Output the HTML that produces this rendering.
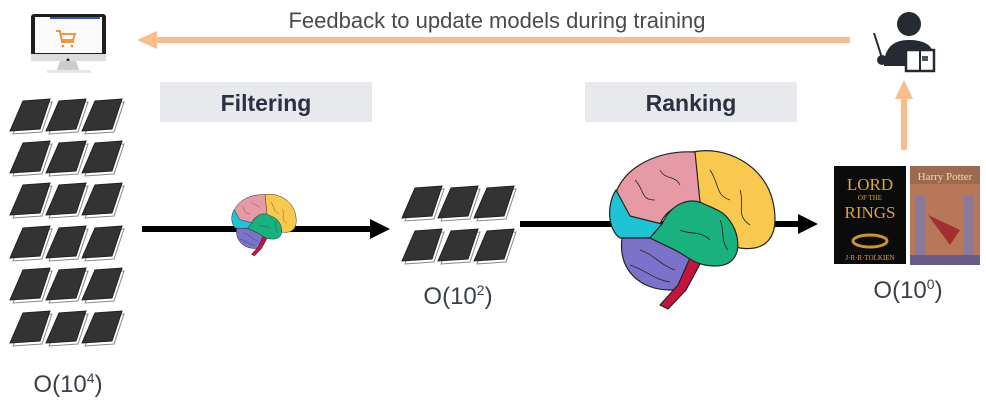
<!DOCTYPE html>
<html><head><meta charset="utf-8"><style>
html,body{margin:0;padding:0;background:#fff;}
body{width:986px;height:402px;overflow:hidden;position:relative;font-family:"Liberation Sans",sans-serif;}
</style></head><body>
<svg width="986" height="402" viewBox="0 0 986 402" xmlns="http://www.w3.org/2000/svg">
<defs>
<g id="book">
<polygon points="3,35 15,5 42,3 32,33" fill="#fff" stroke="#888" stroke-width="1"/>
<polygon points="0,32 13,2 40,0 30,30" fill="#333" stroke="#222" stroke-width="1"/>
</g>
<g id="brain" stroke="#222" stroke-width="1.2" stroke-linejoin="round">
<path d="M93,12 C125,5 165,25 173,62 C180,95 168,112 140,108 L103,100 L97,60 Z" fill="#f8c94e"/>
<path d="M15,55 C25,25 60,10 95,12 L100,62 C80,62 66,70 60,84 L50,92 L15,72 Z" fill="#e59aa5"/>
<path d="M16,50 C6,65 8,90 20,98 L50,98 L62,84 L30,76 Z" fill="#1ec3d4"/>
<path d="M22,98 C18,130 40,150 70,150 C88,150 97,138 95,120 L75,110 L50,98 Z" fill="#7c72c9"/>
<path d="M90,118 L78,145 L60,165 L68,169 L86,150 L100,124 Z" fill="#c4163d"/>
<path d="M62,84 C72,62 90,58 102,63 C116,70 126,70 135,90 C142,110 136,126 115,126 C96,126 90,118 75,110 L50,98 Z" fill="#19b27f"/>
<g fill="none" stroke-width="0.8">
<path d="M35,40 C45,50 40,60 55,60 M60,30 C65,40 75,35 80,45 M110,30 C120,45 115,55 130,60 M140,50 C145,65 135,75 150,85 M80,90 C90,95 100,90 110,100 M40,110 C55,115 60,125 75,130 M30,125 C45,130 55,140 70,142 M120,80 C125,90 120,100 128,110"/>
</g>
</g>
</defs>

<!-- monitor -->
<rect x="31" y="14" width="75" height="44" rx="3" fill="#1e1e1e"/>
<rect x="35" y="17" width="67" height="36" fill="#fafafa"/>
<rect x="50" y="17" width="50" height="2" fill="#3355bb"/>
<rect x="31" y="54" width="75" height="7" fill="#ddd"/>
<circle cx="68" cy="60" r="1.5" fill="#222"/>
<polygon points="60,61 76,61 79,70 57,70" fill="#ccc"/>
<rect x="47" y="70" width="44" height="3" fill="#e6e6e6"/>
<g stroke="#f0892a" stroke-width="1.8" fill="none"><path d="M56,31 L60,31 L62,42 L74,42 M61,34 L75,34 L73,40 L62,40"/></g>
<circle cx="63" cy="46" r="1.3" fill="#f0892a"/><circle cx="72" cy="46" r="1.3" fill="#f0892a"/>

<!-- feedback arrow -->
<line x1="156" y1="40" x2="850" y2="40" stroke="#f9be8c" stroke-width="6"/>
<polygon points="137,40 157,31 157,49" fill="#f9be8c"/>
<text x="497" y="28" font-size="22" fill="#4a4a4a" text-anchor="middle">Feedback to update models during training</text>

<!-- teacher -->
<circle cx="909" cy="24" r="12" fill="#262b33"/>
<path d="M884,66 C884,46 895,40 909,40 C922,40 930,44 932,50 L906,50 L906,66 Z" fill="#262b33"/>
<line x1="874" y1="33" x2="882" y2="58" stroke="#262b33" stroke-width="2"/>
<circle cx="882" cy="60" r="5" fill="#262b33"/>
<rect x="906" y="50" width="28" height="21" fill="#fff" stroke="#262b33" stroke-width="2.5"/>
<line x1="920" y1="50" x2="920" y2="72" stroke="#262b33" stroke-width="2"/>
<rect x="922" y="56" width="6" height="5" fill="#555"/>

<!-- up arrow -->
<line x1="904" y1="150" x2="904" y2="97" stroke="#f9be8c" stroke-width="6"/>
<polygon points="904,80 895,99 913,99" fill="#f9be8c"/>

<!-- labels boxes -->
<rect x="160" y="82" width="212" height="40" fill="#e8e9ec"/>
<text x="266" y="111" font-size="23" font-weight="bold" fill="#2a3142" text-anchor="middle">Filtering</text>
<rect x="585" y="82" width="212" height="40" fill="#e8e9ec"/>
<text x="691" y="111" font-size="23" font-weight="bold" fill="#2a3142" text-anchor="middle">Ranking</text>

<!-- left books -->
<g>
<use href="#book" x="10" y="99"/><use href="#book" x="46" y="99"/><use href="#book" x="82" y="99"/>
<use href="#book" x="10" y="141"/><use href="#book" x="46" y="141"/><use href="#book" x="82" y="141"/>
<use href="#book" x="10" y="183"/><use href="#book" x="46" y="183"/><use href="#book" x="82" y="183"/>
<use href="#book" x="10" y="226"/><use href="#book" x="46" y="226"/><use href="#book" x="82" y="226"/>
<use href="#book" x="10" y="268"/><use href="#book" x="46" y="268"/><use href="#book" x="82" y="268"/>
<use href="#book" x="10" y="311"/><use href="#book" x="46" y="311"/><use href="#book" x="82" y="311"/>
</g>
<text x="68" y="392" font-size="24" fill="#3b3f48" text-anchor="middle">O(10<tspan font-size="14" dy="-9">4</tspan><tspan dy="9">)</tspan></text>

<!-- arrow 1 -->
<line x1="142" y1="229" x2="372" y2="229" stroke="#000" stroke-width="6"/>
<polygon points="390,229 370,219 370,239" fill="#000"/>
<g transform="translate(228,190) scale(0.39)"><use href="#brain"/></g>

<!-- middle books -->
<use href="#book" x="402" y="186"/><use href="#book" x="438" y="186"/><use href="#book" x="474" y="186"/>
<use href="#book" x="402" y="229"/><use href="#book" x="438" y="229"/><use href="#book" x="474" y="229"/>
<text x="458" y="304" font-size="24" fill="#3b3f48" text-anchor="middle">O(10<tspan font-size="14" dy="-9">2</tspan><tspan dy="9">)</tspan></text>

<!-- arrow 2 -->
<line x1="520" y1="224" x2="800" y2="224" stroke="#000" stroke-width="6"/>
<polygon points="818,224 798,214 798,234" fill="#000"/>
<g transform="translate(600,140)"><use href="#brain"/></g>

<!-- covers -->
<rect x="834" y="166" width="72" height="98" fill="#0b0b0b"/>
<text x="870" y="190" font-size="17" font-family="Liberation Serif,serif" fill="#d8a63a" text-anchor="middle">LORD</text>
<text x="870" y="200" font-size="7" font-family="Liberation Serif,serif" fill="#d8a63a" text-anchor="middle">OF THE</text>
<text x="870" y="218" font-size="17" font-family="Liberation Serif,serif" fill="#d8a63a" text-anchor="middle">RINGS</text>
<ellipse cx="870" cy="241" rx="17" ry="6" fill="none" stroke="#c9962e" stroke-width="3"/>
<text x="870" y="260" font-size="7" font-family="Liberation Serif,serif" fill="#d8a63a" text-anchor="middle">J·R·R·TOLKIEN</text>
<rect x="910" y="166" width="70" height="99" fill="#b9775a"/>
<rect x="910" y="166" width="70" height="18" fill="#9c6a4e"/>
<text x="945" y="180" font-size="11" font-family="Liberation Serif,serif" fill="#f4d9a0" text-anchor="middle">Harry Potter</text>
<rect x="915" y="195" width="10" height="60" fill="#8a7a9a"/>
<rect x="964" y="195" width="10" height="60" fill="#8a7a9a"/>
<path d="M928,215 L960,230 L950,245 Z" fill="#a03030"/>
<rect x="910" y="255" width="70" height="10" fill="#6a5a8a"/>
<text x="908" y="298" font-size="24" fill="#3b3f48" text-anchor="middle">O(10<tspan font-size="14" dy="-9">0</tspan><tspan dy="9">)</tspan></text>
</svg>
</body></html>
